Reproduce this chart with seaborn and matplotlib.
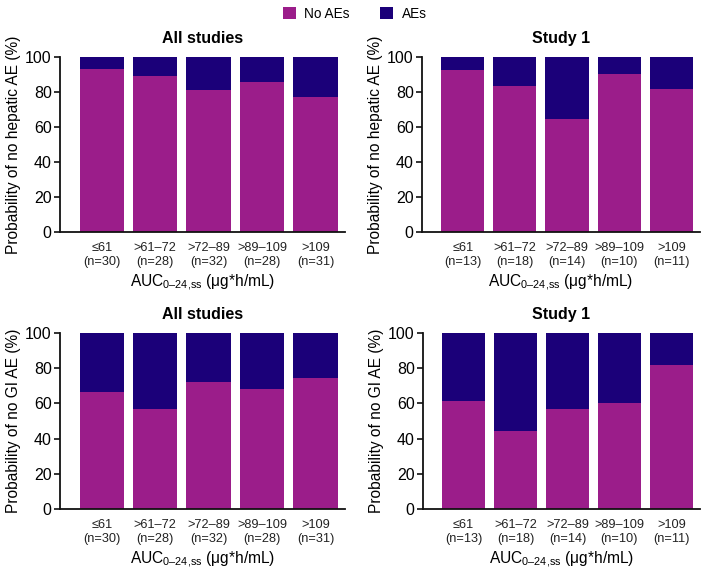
import matplotlib
matplotlib.use("Agg")
import matplotlib.pyplot as plt
import seaborn as sns
import pandas as pd
from matplotlib.patches import Patch

categories = ["≤61", ">61–72", ">72–89", ">89–109", ">109"]
n_all = [30, 28, 32, 28, 31]
n_study1 = [13, 18, 14, 10, 11]

hep_all = [93.3, 89.3, 81.3, 85.7, 77.4]
hep_study1 = [92.3, 83.3, 64.3, 90.0, 81.8]
gi_all = [66.7, 57.1, 71.9, 67.9, 74.2]
gi_study1 = [61.5, 44.4, 57.1, 60.0, 81.8]

titles = ["All studies", "Study 1", "All studies", "Study 1"]
ylabels = ["Probability of no hepatic AE (%)", "Probability of no hepatic AE (%)",
           "Probability of no GI AE (%)", "Probability of no GI AE (%)"]
yticks = [0, 20, 40, 60, 80, 100]

C_NO = "#9B1D8A"
C_AE = "#1B0079"

sns.set_theme(style="ticks")
plt.rcParams["font.family"] = ["Liberation Sans", "DejaVu Sans"]
plt.rcParams["mathtext.fontset"] = "custom"
plt.rcParams["mathtext.rm"] = "Liberation Sans"
plt.rcParams["text.color"] = "black"
plt.rcParams["axes.labelcolor"] = "black"
plt.rcParams["xtick.color"] = "black"
plt.rcParams["ytick.color"] = "black"

fig = plt.figure(figsize=(7.09, 5.70), dpi=100)
W, H = 709, 570
def ax_at(l, r, t, b):
    return fig.add_axes([l / W, 1 - b / H, (r - l) / W, (b - t) / H])

axes = [ax_at(60, 345, 57, 232), ax_at(422, 700, 57, 232),
        ax_at(60, 345, 333, 509), ax_at(423, 700, 333, 509)]

panels = [(hep_all, n_all), (hep_study1, n_study1), (gi_all, n_all), (gi_study1, n_study1)]

for ax, (vals, ns), title, ylab in zip(axes, panels, titles, ylabels):
    labels = [f"{c}\n(n={n})" for c, n in zip(categories, ns)]
    df = pd.DataFrame({"group": labels, "no_ae": vals, "total": [100] * len(vals)})
    sns.barplot(data=df, x="group", y="total", color=C_AE, width=0.83,
                saturation=1, ax=ax, edgecolor="none")
    sns.barplot(data=df, x="group", y="no_ae", color=C_NO, width=0.83,
                saturation=1, ax=ax, edgecolor="none")
    ax.set_ylim(0, 100)
    ax.set_xlim(-0.78, 4.55)
    ax.set_yticks(yticks)
    ax.tick_params(axis="y", labelsize=11.5, length=4, width=1.2, color="#111111", pad=2)
    ax.tick_params(axis="x", labelsize=9.2, length=0, pad=7, labelcolor="#222222")
    for s in ["top", "right"]:
        ax.spines[s].set_visible(False)
    for s in ["left", "bottom"]:
        ax.spines[s].set_linewidth(1.3)
        ax.spines[s].set_color("#111111")
    ax.set_title(title, fontsize=11.5, fontweight="bold", pad=10)
    ax.set_ylabel(ylab, fontsize=11.2, labelpad=3)
    ax.set_xlabel(r"AUC$_{\mathregular{0–24{,}ss}}$ (μg*h/mL)", fontsize=11.2, labelpad=4)

handles = [Patch(facecolor=C_NO, edgecolor="none", label="No AEs"),
           Patch(facecolor=C_AE, edgecolor="none", label="AEs")]
fig.legend(handles=handles, loc="upper center", bbox_to_anchor=(0.5, 1.01), ncol=2,
           frameon=False, fontsize=9.8, handlelength=1.0, handleheight=1.0,
           columnspacing=2.2, handletextpad=0.6)

fig.savefig("out.png", dpi=100)
